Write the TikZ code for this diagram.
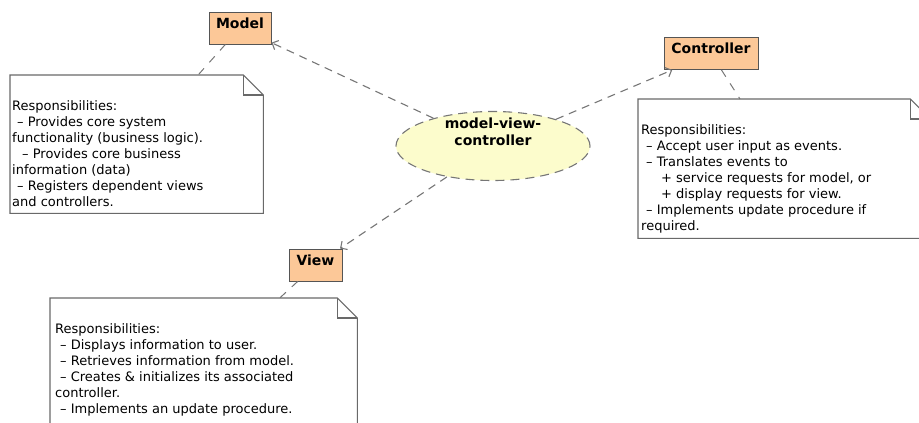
\documentclass[tikz,border=0pt]{standalone}
\usepackage{fontspec}
\setmainfont{DejaVu Sans}
\usetikzlibrary{arrows.meta,positioning,shapes.geometric}
\definecolor{linegray}{RGB}{118,118,118}
\definecolor{boxline}{RGB}{85,85,85}
\definecolor{noteline}{RGB}{105,105,105}
\definecolor{classfill}{RGB}{252,200,152}
\definecolor{casefill}{RGB}{252,252,204}
\newcommand{\ind}{\hspace*{5pt}}

\tikzset{
  classbox/.style={draw=boxline,fill=classfill,line width=0.9pt,
    font=\fontsize{14}{17}\selectfont\bfseries,
    text height=11pt,text depth=11pt,inner xsep=6pt,inner ysep=5pt},
  usecase/.style={ellipse,draw=linegray,fill=casefill,line width=1.1pt,
    dash pattern=on 9pt off 6pt,minimum width=194pt,minimum height=69pt},
  casetext/.style={font=\fontsize{14}{17}\selectfont\bfseries,align=center,inner sep=0pt},
  notearea/.style={fill=white,inner sep=0pt,anchor=north west},
  noteline/.style={draw=noteline,line width=1.1pt},
  notetext/.style={font=\fontsize{13}{16}\selectfont,align=left,inner sep=0pt},
  dep/.style={draw=linegray,line width=1.1pt,dash pattern=on 8pt off 6pt,
    -{Straight Barb[length=5pt,width=10pt]}},
  tie/.style={draw=linegray,line width=1pt,dash pattern=on 8pt off 8pt},
}

\begin{document}
\begin{tikzpicture}[x=1pt,y=-1pt]
  \useasboundingbox (0,0) rectangle (919,423);
  \clip (0,0) rectangle (919,423);

  % the three classes and the pattern
  \node[classbox,minimum width=62pt] (model) at (240,28) {Model};
  \node[classbox,minimum width=94pt] (controller) at (711,53.5) {Controller};
  \node[classbox,minimum width=53pt] (view) at (315.5,265) {View};
  \node[usecase,label={[casetext,yshift=14pt]center:{model-view-\\controller}}] (mvc) at (493,146) {};

  % notes
  \node[notearea,minimum width=253pt,minimum height=138pt] (modelnote) at (10,75) {};
  \node[notearea,minimum width=292pt,minimum height=139pt] (controllernote) at (638,99) {};
  \node[notearea,minimum width=307pt,minimum height=140pt] (viewnote) at (50,298) {};
  \foreach \n in {modelnote,controllernote,viewnote}{
    \draw[noteline] (\n.north west) -- ([xshift=-20pt]\n.north east)
      -- ([yshift=-20pt]\n.north east) -- (\n.south east) -- (\n.south west) -- cycle;
    \draw[noteline] ([xshift=-20pt]\n.north east) |- ([yshift=-20pt]\n.north east);
  }

  \node[notetext,below right=25pt and 2pt of modelnote.north west] (modeltext) {%
    Responsibilities:\\
    \ind– Provides core system\\
    functionality (business logic).\\
    \ind\ind– Provides core business\\
    information (data)\\
    \ind– Registers dependent views\\
    and controllers.};
  \node[notetext,below right=25pt and 3pt of controllernote.north west] (controllertext) {%
    Responsibilities:\\
    \ind– Accept user input as events.\\
    \ind– Translates events to\\
    \hspace*{20pt}+ service requests for model, or\\
    \hspace*{20pt}+ display requests for view.\\
    \ind– Implements update procedure if\\
    required.};
  \node[notetext,below right=25pt and 5pt of viewnote.north west] (viewtext) {%
    Responsibilities:\\
    \ind– Displays information to user.\\
    \ind– Retrieves information from model.\\
    \ind– Creates \& initializes its associated\\
    controller.\\
    \ind– Implements an update procedure.};

  % dependencies
  \draw[dep] (mvc) -- (model);
  \draw[dep] (mvc) -- (controller);
  \draw[dep] (mvc) -- (view);
  \draw[tie] (model) -- (modelnote);
  \draw[tie] (controller) -- (controllernote);
  \draw[tie] (view) -- (viewnote);
\end{tikzpicture}
\end{document}
